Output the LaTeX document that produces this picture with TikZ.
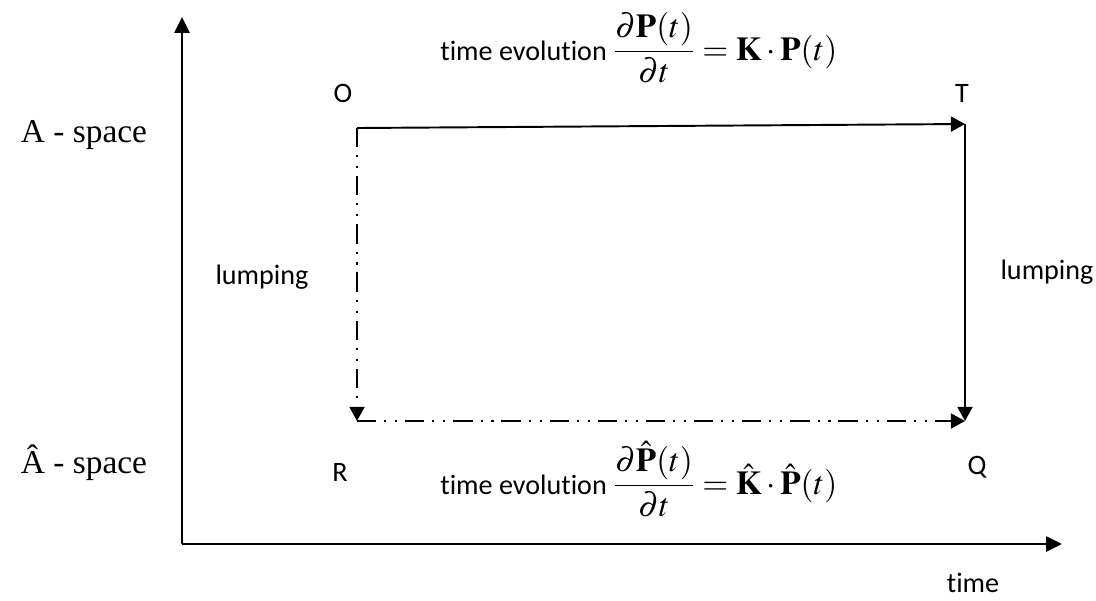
\documentclass[tikz,border=0pt]{standalone}
\usepackage{amsmath}
\usepackage{mathptmx}
\usepackage[no-math]{fontspec}
\setmainfont[Ligatures=NoCommon]{Carlito}
\newfontfamily\tnrfont{Liberation Serif}
\usetikzlibrary{arrows.meta}
\newcommand{\eqsize}{\fontsize{19}{22}\selectfont}

\begin{document}
\begin{tikzpicture}[
x=0.02cm,y=-0.02cm,
every node/.style={font=\fontsize{16}{19}\selectfont,inner sep=0pt},
spacelbl/.style={font=\tnrfont\fontsize{19}{22}\selectfont},
axis/.style={-{Triangle[length=9pt,width=8.5pt]},line width=1.3pt},
arr/.style={-{Triangle[length=8pt,width=8.5pt]},line width=1.1pt},
dashdd/.style={dash pattern=on 11pt off 4.5pt on 1.2pt off 5pt on 1.2pt off 4.5pt}
]
\useasboundingbox (0,0) rectangle (1096,600);
% axes
\coordinate (org) at (182,544);
\coordinate (yend) at (182,17);
\coordinate (xend) at (1062,544);
\draw[axis] (org) -- (yend);
\draw[axis] (org) -- (xend);
\node (time) at (973,583) {time};
\node[spacelbl] (aspace) at (84,135) {A - space};
\node[spacelbl] (ahspace) at (84,463) {Â - space};
% corners
\coordinate (o) at (357,128);
\coordinate (t) at (965,124);
\coordinate (r) at (357,421);
\coordinate (q) at (965,421);
\node (lo) at (343,93) {O};
\node (lt) at (962,93) {T};
\node (lr) at (340,472) {R};
\node (lq) at (977,467) {Q};
\draw[arr] (o) -- (t);
\draw[arr] (t) -- (q);
\draw[arr,dashdd] (o) -- (r);
\draw[arr,dashdd] (r) -- (q);
\node (lumpl) at (262,277) {lumping};
\node (lumpr) at (1047,272) {lumping};
% evolution laws
\node[anchor=base west] (evtop) at (440,60)
  {time evolution {\eqsize$\dfrac{\partial\mathbf{P}(t)}{\partial t}=\mathbf{K}\cdot\mathbf{P}(t)$}};
\node[anchor=base west] (evbot) at (440,494)
  {time evolution {\eqsize$\dfrac{\partial\hat{\mathbf{P}}(t)}{\partial t}=\hat{\mathbf{K}}\cdot\hat{\mathbf{P}}(t)$}};
\end{tikzpicture}
\end{document}
